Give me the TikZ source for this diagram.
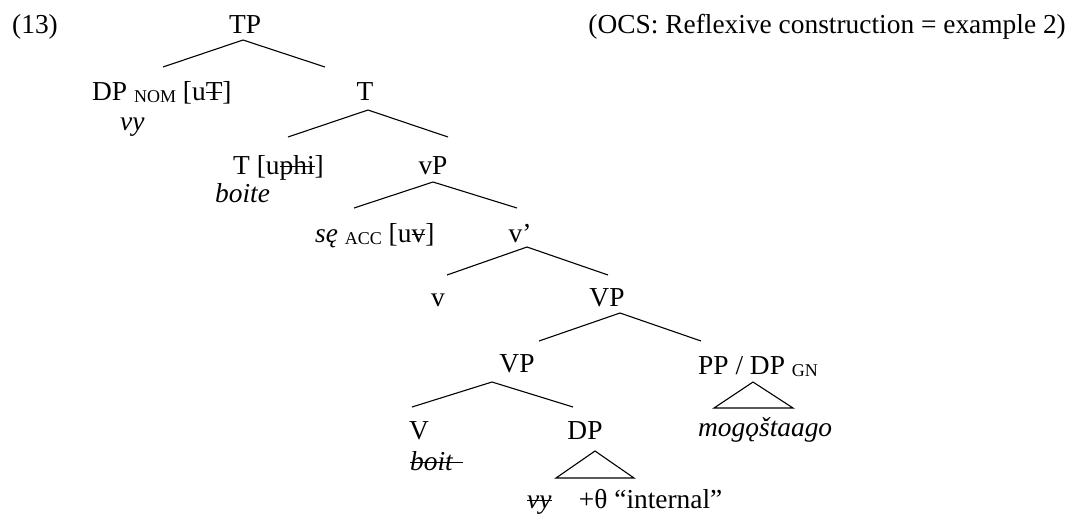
\documentclass[tikz,border=0pt]{standalone}
\usepackage{fontspec}
\setmainfont{Liberation Serif}
% struck-through text; optional argument lengthens the rule
\newcommand\strk[2][0pt]{\setbox0\hbox{#2}\makebox[0pt][l]{\rule[0.27em]{\dimexpr\wd0+#1\relax}{1.1pt}}{#2}}
% small case tag, slightly lowered
\newcommand\casetag[1]{\raisebox{-0.08em}{\fontsize{18}{20}\selectfont #1}}
\begin{document}
\begin{tikzpicture}[x=1pt,y=-1pt,
  every node/.style={inner sep=0pt, font=\fontsize{27.4}{32}\selectfont},
  lbl/.style={anchor=base},
  lblw/.style={anchor=base west},
  lble/.style={anchor=base east},
  branch/.style={line width=1.1pt},
  roof/.style={line width=1.1pt, line join=miter}]
\useasboundingbox (0,0) rectangle (1070,514);

% heading
\node[lblw] (ex) at (12,33) {(13)};
\node[lble] (ocs) at (1066,33) {(OCS: Reflexive construction = example 2)};

% tree labels
\node[lbl]  (tp)   at (245,33)  {TP};
\node[lblw] (dpnom) at (92,100) {DP \casetag{NOM} [u\strk{T}]};
\node[lblw] (vy)   at (120,130) {\itshape vy};
\node[lbl]  (tbar) at (365,100) {T};
\node[lblw] (thead) at (233,174) {T [u\strk{phi}]};
\node[lblw] (boite) at (215,202) {\itshape boite};
\node[lbl]  (vp)   at (433,174) {vP};
\node[lblw] (se)   at (315,242) {\textit{sę} \casetag{ACC} [u\strk{v}]};
\node[lbl]  (vbar) at (520,242) {v’};
\node[lbl]  (vhead) at (438,306) {v};
\node[lbl]  (VPa)  at (607,306) {VP};
\node[lbl]  (VPb)  at (517,372) {VP};
\node[lblw] (pp)   at (698,374) {PP / DP \casetag{GN}};
\node[lblw] (mog)  at (698,436) {\itshape mogǫštaago};
\node[lbl]  (Vhead) at (419,439) {V};
\node[lblw] (boit) at (410,470) {\strk[10pt]{\textit{boit}}};
\node[lbl]  (dp)   at (585,439) {DP};
\node[lblw] (int)  at (527,508) {\strk{\textit{vy}}\quad+θ “internal”};

% branch points
\coordinate (tp-a) at (243,40);  \coordinate (tp-l) at (163,67);  \coordinate (tp-r) at (325,67);
\coordinate (t-a)  at (368,110); \coordinate (t-l)  at (288,137); \coordinate (t-r)  at (448,137);
\coordinate (vp-a) at (433,182); \coordinate (vp-l) at (354,208); \coordinate (vp-r) at (517,208);
\coordinate (vb-a) at (527,247); \coordinate (vb-l) at (447,275); \coordinate (vb-r) at (608,275);
\coordinate (VPa-a) at (620,313); \coordinate (VPa-l) at (539,341); \coordinate (VPa-r) at (701,341);
\coordinate (VPb-a) at (492,382); \coordinate (VPb-l) at (412,407); \coordinate (VPb-r) at (573,407);
\coordinate (pp-a) at (753,382); \coordinate (pp-l) at (714,408); \coordinate (pp-r) at (793,408);
\coordinate (dp-a) at (595,451); \coordinate (dp-l) at (556,478); \coordinate (dp-r) at (634,478);

% branches
\draw[branch] (tp-l) -- (tp-a) -- (tp-r);
\draw[branch] (t-l) -- (t-a) -- (t-r);
\draw[branch] (vp-l) -- (vp-a) -- (vp-r);
\draw[branch] (vb-l) -- (vb-a) -- (vb-r);
\draw[branch] (VPa-l) -- (VPa-a) -- (VPa-r);
\draw[branch] (VPb-l) -- (VPb-a) -- (VPb-r);

% roofs
\draw[roof] (pp-a) -- (pp-l) -- (pp-r) -- cycle;
\draw[roof] (dp-a) -- (dp-l) -- (dp-r) -- cycle;
\end{tikzpicture}
\end{document}
